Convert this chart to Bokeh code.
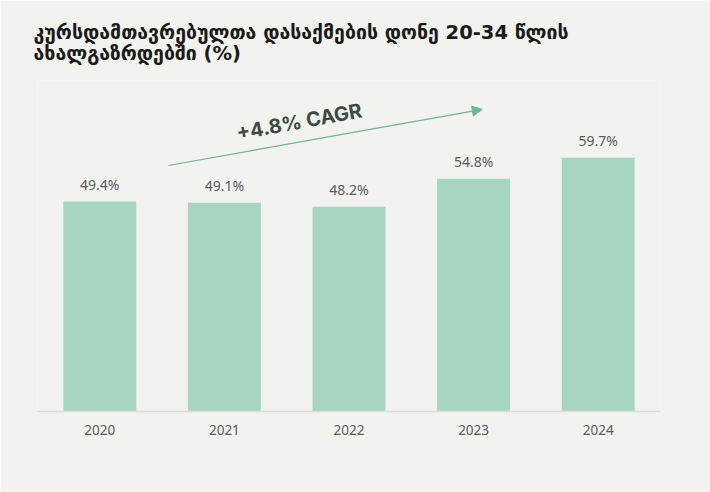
from bokeh.core.properties import value
from bokeh.embed import file_html
from bokeh.models import Arrow, Label, LabelSet, ColumnDataSource, FixedTicker, NormalHead, Range1d, Title
from bokeh.plotting import figure
from bokeh.resources import INLINE

# data
years = ["2020", "2021", "2022", "2023", "2024"]
rate = [49.4, 49.1, 48.2, 54.8, 59.7]
cagr_text = "+4.8% CAGR"
title_text = "კურსდამთავრებულთა დასაქმების დონე 20-34 წლის\nახალგაზრდებში (%)"

BG = "#f2f2ee"
BAR = "#a7d5bf"
ARROW = "#6fb596"

idx = list(range(len(years)))
src = ColumnDataSource(dict(
    x=idx,
    y=rate,
    lbl=[f"{v:.1f}%" for v in rate],
))

p = figure(
    width=710, height=492,
    x_range=Range1d(-0.5, len(years) - 0.5),
    y_range=Range1d(0, 77.9),
    toolbar_location=None,
    output_backend="svg",
    min_border_left=37, min_border_right=50,
    min_border_top=80, min_border_bottom=81,
    background_fill_color=BG, border_fill_color=BG,
    outline_line_color=None,
)
p.title = None

p.vbar(x="x", top="y", width=0.585, source=src, color=BAR, line_color=None)

labels = LabelSet(x="x", y="y", text="lbl", source=src, y_offset=8,
                  text_align="center", text_baseline="bottom",
                  text_font=value("Noto Sans"), text_font_size=value("14px"),
                  text_color=value("#555d61"))
p.add_layout(labels)

# CAGR arrow and text
p.add_layout(Arrow(x_start=0.55, y_start=57.9, x_end=3.07, y_end=71.1,
                   line_color=ARROW, line_width=1.2,
                   end=NormalHead(size=10, fill_color=ARROW, line_color=ARROW)))
p.add_layout(Label(x=1.6, y=68.2, text=cagr_text, angle=10.5, angle_units="deg",
                   text_align="center", text_baseline="middle",
                   text_font="Inter", text_font_style="bold", text_font_size="20px",
                   text_color="#3b4a44"))

# title
t = Title(text=title_text, text_font="DejaVu Sans", text_font_style="bold",
          text_font_size="19.5px", text_color="#1a1a1a", text_line_height=0.95,
          offset=-4, standoff=30)
p.add_layout(t, "above")

p.xaxis.ticker = FixedTicker(ticks=idx)
p.xaxis.major_label_overrides = {i: y for i, y in zip(idx, years)}
p.xaxis.major_tick_line_color = None
p.xaxis.minor_tick_line_color = None
p.xaxis.axis_line_color = "#dcdcdc"
p.xaxis.axis_line_width = 1.5
p.xaxis.major_label_standoff = 7
p.xaxis.major_label_text_font = "Noto Sans"
p.xaxis.major_label_text_font_size = "13.5px"
p.xaxis.major_label_text_color = "#555d61"
p.yaxis.visible = False
p.xgrid.visible = False
p.ygrid.visible = False

open("out.html", "w").write(file_html(p, INLINE))
